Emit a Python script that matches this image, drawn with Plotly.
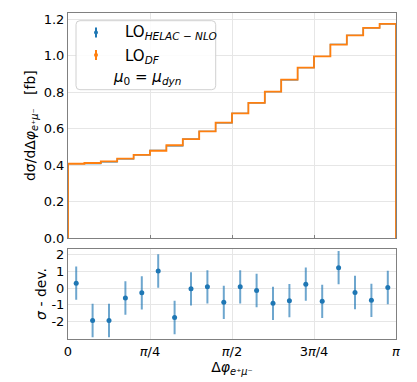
import numpy as np
import plotly.graph_objects as go

# ---- data ----
n_bins = 20
lo_df = [0.408, 0.412, 0.421, 0.436, 0.456, 0.479, 0.509, 0.543, 0.585, 0.633,
         0.684, 0.741, 0.803, 0.868, 0.934, 0.996, 1.060, 1.111, 1.152, 1.174]
lo_helac = [0.408, 0.409, 0.418, 0.435, 0.456, 0.481, 0.506, 0.543, 0.585, 0.632,
            0.684, 0.741, 0.802, 0.867, 0.934, 0.995, 1.062, 1.111, 1.151, 1.174]
sigma_dev = [0.30, -1.94, -1.94, -0.59, -0.28, 1.03, -1.76, -0.04, 0.08, -0.85,
             0.08, -0.14, -0.91, -0.75, 0.24, -0.79, 1.23, -0.26, -0.73, 0.04]
sigma_err = [1.0] * n_bins
x_tickvals = [0, np.pi / 4, np.pi / 2, 3 * np.pi / 4, np.pi]
x_ticktext = ["0", "<i>π</i>/4", "<i>π</i>/2", "3<i>π</i>/4", "<i>π</i>"]
y_top_ticks = [0.0, 0.2, 0.4, 0.6, 0.8, 1.0, 1.2]
y_bot_ticks = [2, 1, 0, -1, -2]
y_bot_text = ["2", "1", "0", "-1", "-2"]

edges = np.linspace(0, np.pi, n_bins + 1)
centers = 0.5 * (edges[:-1] + edges[1:])

def step_xy(vals):
    xs = [edges[0]] + list(edges[:-1]) + [edges[-1], edges[-1]]
    ys = [0] + list(vals) + [vals[-1], 0]
    return xs, ys

BLUE = "#1f77b4"
ORANGE = "#ff7f0e"
FONT = "DejaVu Sans"
GRID = "#e6e6e6"
SPINE = "#808080"

fig = go.Figure()
xb, yb = step_xy(lo_helac)
fig.add_trace(go.Scatter(x=xb, y=yb, mode="lines", line=dict(color=BLUE, width=1.2, shape="hv"),
                         name="LO HELAC-NLO", showlegend=False, xaxis="x", yaxis="y"))
xo, yo = step_xy(lo_df)
fig.add_trace(go.Scatter(x=xo, y=yo, mode="lines", line=dict(color=ORANGE, width=1.8, shape="hv"),
                         name="LO DF", showlegend=False, xaxis="x", yaxis="y"))
fig.add_trace(go.Scatter(x=centers, y=sigma_dev, mode="markers",
                         marker=dict(color=BLUE, size=5),
                         error_y=dict(type="data", array=sigma_err, color="rgba(31,119,180,0.65)",
                                      thickness=2, width=0),
                         name="sigma dev", showlegend=False, xaxis="x2", yaxis="y2"))

axis_common = dict(showgrid=True, gridcolor=GRID, gridwidth=1, zeroline=False,
                   showline=True, linecolor=SPINE, linewidth=1, mirror=True, automargin=False,
                   tickfont=dict(family=FONT, size=13, color="black"))

fig.update_layout(
    width=417, height=382,
    margin=dict(l=68, r=21, t=13, b=43),
    paper_bgcolor="white", plot_bgcolor="white",
    font=dict(family=FONT, color="black"),
    showlegend=False,
    xaxis=dict(domain=[0, 1], range=[0, np.pi], anchor="y", tickvals=x_tickvals,
               showticklabels=False, ticks="inside", ticklen=3, tickcolor=SPINE, **axis_common),
    yaxis=dict(domain=[0.309, 1], range=[0, 1.233], anchor="x", tickvals=y_top_ticks,
               tickformat=".1f", ticks="",
               title=dict(text="dσ/dΔ<i>φ</i><sub><i>e</i>⁺<i>μ</i>⁻</sub>   [fb]",
                          font=dict(family=FONT, size=14), standoff=4),
               **axis_common),
    xaxis2=dict(domain=[0, 1], range=[0, np.pi], anchor="y2", tickvals=x_tickvals,
                ticktext=x_ticktext, ticks="",
                title=dict(text="Δ<i>φ</i><sub><i>e</i>⁺<i>μ</i>⁻</sub>",
                           font=dict(family=FONT, size=14), standoff=1),
                **axis_common),
    yaxis2=dict(domain=[0, 0.2765], range=[-3.05, 2.36], anchor="x2", tickvals=y_bot_ticks,
                ticktext=y_bot_text, ticks="",
                title=dict(text="<i>σ</i> - dev.", font=dict(family=FONT, size=14), standoff=1),
                **axis_common),
)

# ---- legend (drawn manually to mimic the errorbar handles) ----
def px(xp):
    return (xp - 68) / 328.0

def py(yp):
    return (339 - yp) / 326.0

x0, x1, y0, y1, r = px(76), px(215.7), py(20.7), py(89.7), 0.012
ry = r * 328 / 326.0
path = (f"M {x0+r},{y0} L {x1-r},{y0} Q {x1},{y0} {x1},{y0-ry} "
        f"L {x1},{y1+ry} Q {x1},{y1} {x1-r},{y1} L {x0+r},{y1} Q {x0},{y1} {x0},{y1+ry} "
        f"L {x0},{y0-ry} Q {x0},{y0} {x0+r},{y0} Z")
fig.add_shape(type="path", path=path, xref="paper", yref="paper",
              line=dict(color="#d0d0d0", width=1), fillcolor="rgba(255,255,255,0.85)")

for col, cy in [(BLUE, 32.5), (ORANGE, 55.0)]:
    fig.add_shape(type="line", xref="paper", yref="paper", x0=px(96), x1=px(96),
                  y0=py(cy - 5), y1=py(cy + 5), line=dict(color=col, width=2))
    fig.add_shape(type="circle", xref="paper", yref="paper", x0=px(94), x1=px(98),
                  y0=py(cy - 2), y1=py(cy + 2), line=dict(color=col, width=0), fillcolor=col)

fig.add_annotation(x=px(122.5), y=py(33), xref="paper", yref="paper", xanchor="left", yanchor="middle",
                   text="LO<sub><i>HELAC</i> − <i>NLO</i></sub>", showarrow=False,
                   font=dict(family=FONT, size=15, color="black"))
fig.add_annotation(x=px(122.5), y=py(56), xref="paper", yref="paper", xanchor="left", yanchor="middle",
                   text="LO<sub><i>DF</i></sub>", showarrow=False,
                   font=dict(family=FONT, size=15, color="black"))
fig.add_annotation(x=px(146.5), y=py(78), xref="paper", yref="paper", xanchor="center", yanchor="middle",
                   text="<i>μ</i><sub>0</sub> = <i>μ</i><sub><i>dyn</i></sub>", showarrow=False,
                   font=dict(family=FONT, size=15, color="black"))

fig.write_html("out.html", config={"displayModeBar": False},
               post_script="document.body.style.margin='0px';")
